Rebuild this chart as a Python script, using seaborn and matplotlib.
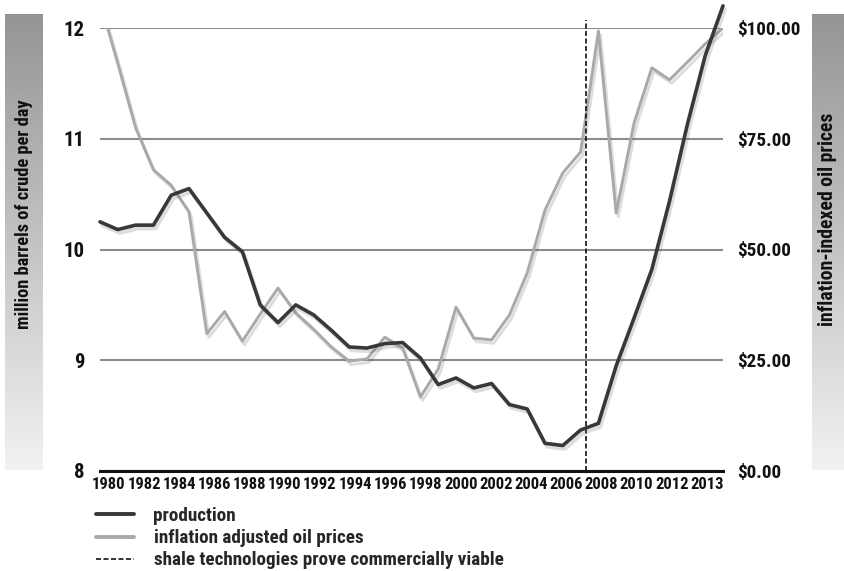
import numpy as np
import pandas as pd
import matplotlib
matplotlib.use("Agg")
import matplotlib.pyplot as plt
import matplotlib.patheffects as pe
from matplotlib.lines import Line2D
from matplotlib import font_manager as fm
import seaborn as sns

# ---------------- data ----------------
year_labels = ["1980", "1982", "1984", "1986", "1988", "1990", "1992", "1994", "1996",
               "1998", "2000", "2002", "2004", "2006", "2008", "2010", "2012", "2013"]

# million barrels of crude per day (one value per step along the time axis)
production = [10.25, 10.18, 10.22, 10.22, 10.49, 10.55, 10.33, 10.11, 9.98, 9.50,
              9.34, 9.50, 9.41, 9.27, 9.12, 9.11, 9.15, 9.16, 9.02, 8.78,
              8.84, 8.75, 8.79, 8.60, 8.56, 8.25, 8.23, 8.37, 8.43, 8.95,
              9.38, 9.82, 10.44, 11.13, 11.75, 12.20]

# inflation adjusted oil prices (US$)
oil_price = [106.0, 92.0, 77.5, 68.0, 64.5, 58.5, 31.0, 36.0, 29.3, 35.4,
             41.3, 35.7, 32.0, 28.0, 24.8, 25.3, 30.2, 27.8, 16.7, 23.0,
             37.0, 30.0, 29.6, 35.2, 44.7, 58.9, 67.3, 72.0, 99.3, 58.2,
             78.5, 91.0, 88.3, 92.3, 96.4, 100.0]

shale_step = 27.33          # 2007: shale technologies prove commercially viable

left_ticks = [8, 9, 10, 11, 12]
right_ticks = [0, 25, 50, 75, 100]
right_labels = ["$0.00", "$25.00", "$50.00", "$75.00", "$100.00"]

legend_labels = ["production", "inflation adjusted oil prices",
                 "shale technologies prove commercially viable"]

left_title = "million barrels of crude per day"
right_title = "inflation-indexed oil prices"

# ---------------- style ----------------
sns.set_theme(style="white")

# pick a narrow family if one is installed
avail = {f.name for f in fm.fontManager.ttflist}
condensed = sorted({f.name for f in fm.fontManager.ttflist
                    if "ondensed" in f.name or "Narrow" in f.name})
prefs = ["Liberation Sans Narrow", "Roboto Condensed", "Open Sans Condensed",
         "Noto Sans Condensed", "Noto Sans Display Condensed"] + condensed + ["Lato", "Roboto"]
family = next((p for p in prefs if p in avail), "DejaVu Sans")
narrow = family not in ("Lato", "Roboto", "DejaVu Sans")
plt.rcParams['font.family'] = [family, 'DejaVu Sans']
plt.rcParams['font.weight'] = 'bold'

k = 1.0 if narrow else 0.88   # size factor for wider fallbacks

W, H = 845, 571
fig = plt.figure(figsize=(W / 100, H / 100), dpi=100)
fig.patch.set_facecolor("white")

ax = fig.add_axes([100 / W, 1 - 471 / H, 623 / W, 443 / H])
ax2 = ax.twinx()

df = pd.DataFrame({"step": np.arange(len(production)),
                   "production": production,
                   "price": oil_price})

shadow = [pe.SimpleLineShadow(offset=(1.5, -2.5), shadow_color="#555555", alpha=0.2),
          pe.Normal()]

sns.lineplot(data=df, x="step", y="price", ax=ax2, color="#a9a9a9", lw=2.1)
ax2.lines[-1].set_path_effects(shadow)
sns.lineplot(data=df, x="step", y="production", ax=ax, color="#383838", lw=2.6)
prod_line = ax.lines[-1]
prod_line.set_path_effects(shadow)
prod_line.set_clip_on(False)

ax.set_zorder(ax2.get_zorder() + 1)
ax.patch.set_visible(False)

ax.set_xlim(0, len(production) - 1)
ax.set_ylim(8, 12)
ax2.set_ylim(0, 100)

# grid on the price axis (behind both lines)
ax2.set_yticks(right_ticks)
ax2.set_yticklabels(right_labels, fontsize=13.8 * k, fontweight="bold", color="#111111")
ax2.grid(axis="y", color="#8c8c8c", lw=1.5)
ax2.grid(axis="x", visible=False)
ax.grid(False)

ax.set_yticks(left_ticks)
ax.set_yticklabels([str(t) for t in left_ticks], fontsize=15 * k, fontweight="bold", color="#111111")
ax.tick_params(axis="y", length=0, pad=11)
ax2.tick_params(axis="y", length=0, pad=10)

ax.set_xticks(np.linspace(0.5, 34.1, len(year_labels)))
ax.set_xticklabels(year_labels, fontsize=12 * k, fontweight="bold", color="#111111")
ax.tick_params(axis="x", length=0, pad=4)

ax.set_xlabel("")
ax.set_ylabel("")
ax2.set_ylabel("")

for a in (ax, ax2):
    for s in a.spines.values():
        s.set_visible(False)
ax.spines["bottom"].set_visible(True)
ax.spines["bottom"].set_color("#111111")
ax.spines["bottom"].set_linewidth(2.2)

# shale line
ax.axvline(shale_step, ymin=0, ymax=1.018, color="#111111", lw=1.2,
           ls=(0, (3, 1.5)), clip_on=False, zorder=1)

# ---------------- side bands ----------------
grad = np.linspace(0, 1, 256).reshape(-1, 1)

def band(x0, x1, y0, y1, text, ty, size):
    bax = fig.add_axes([x0 / W, 1 - y1 / H, (x1 - x0) / W, (y1 - y0) / H])
    bax.imshow(grad, aspect="auto", cmap="gray", vmin=-1.6, vmax=1.15,
               extent=[0, 1, 0, 1], origin="upper")
    bax.set_axis_off()
    bax.text(0.5, ty, text, rotation=90, ha="center", va="center",
             fontsize=size * k, fontweight="bold", color="#111111",
             transform=bax.transAxes)

band(5, 43, 14, 470, left_title, 0.56, 13.2)
band(812, 844, 14, 470, right_title, 0.55, 14.2)

# ---------------- legend ----------------
handles = [Line2D([], [], color="#383838", lw=2.8),
           Line2D([], [], color="#a9a9a9", lw=2.8),
           Line2D([], [], color="#111111", lw=1.2, ls=(0, (3, 1.5)))]
fig.legend(handles, legend_labels, loc="upper left",
           bbox_to_anchor=(96 / W, 1 - 507 / H), frameon=False,
           prop={"size": 13.8 * k, "weight": "bold"}, handlelength=2.0 / k,
           handletextpad=1.0 / k, labelspacing=0.22, borderaxespad=0, borderpad=0)

fig.savefig("out.png", dpi=100, facecolor="white")
